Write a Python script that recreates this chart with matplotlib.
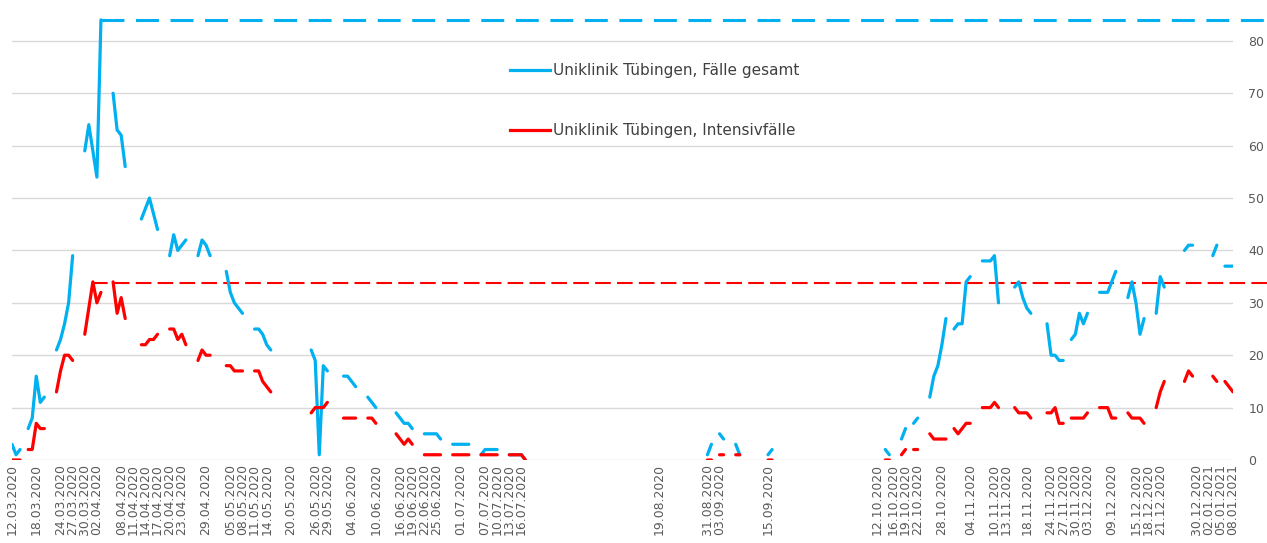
import matplotlib
matplotlib.use("Agg")
import matplotlib.pyplot as plt
from matplotlib.lines import Line2D
import pandas as pd

# ---------------- data ----------------
segment_starts = [
    "2020-03-12", "2020-03-16", "2020-03-23", "2020-03-30", "2020-04-06",
    "2020-04-13", "2020-04-20", "2020-04-27", "2020-05-04", "2020-05-11",
    "2020-05-25", "2020-06-02", "2020-06-08", "2020-06-15", "2020-06-22",
    "2020-06-29", "2020-07-06", "2020-07-13",
    "2020-08-31", "2020-09-03", "2020-09-07", "2020-09-15",
    "2020-10-14", "2020-10-18", "2020-10-21", "2020-10-25", "2020-10-31",
    "2020-11-07", "2020-11-15", "2020-11-23", "2020-11-29", "2020-12-06",
    "2020-12-13", "2020-12-20", "2020-12-27", "2021-01-03", "2021-01-06",
]

faelle_gesamt = [
    [3, 1, 2], [6, 8, 16, 11, 12], [21, 23, 26, 30, 39], [59, 64, 59, 54, 84],
    [70, 63, 62, 56], [46, 48, 50, 47, 44], [39, 43, 40, 41, 42], [39, 42, 41, 39],
    [36, 32, 30, 29, 28], [25, 25, 24, 22, 21],
    [21, 19, 1, 18, 17], [16, 16, 15, 14], [12, 11, 10], [9, 8, 7, 7, 6],
    [5, 5, 5, 5, 4], [3, 3, 3, 3, 3], [1, 2, 2, 2, 2], [1, 1, 1, 1, 0],
    [1, 3], [5, 4], [3, 1], [1, 2],
    [2, 1], [4, 6], [7, 8], [12, 16, 18, 22, 27], [25, 26, 26, 34, 35],
    [38, 38, 38, 39, 30], [33, 34, 31, 29, 28], [26, 20, 20, 19, 19],
    [23, 24, 28, 26, 28], [32, 32, 32, 34, 36],
    [31, 34, 30, 24, 27], [28, 35, 33], [40, 41, 41], [39, 41], [37, 37, 37],
]

intensivfaelle = [
    [0, 0, 0], [2, 2, 7, 6, 6], [13, 17, 20, 20, 19], [24, 29, 34, 30, 32],
    [34, 28, 31, 27], [22, 22, 23, 23, 24], [25, 25, 23, 24, 22], [19, 21, 20, 20],
    [18, 18, 17, 17, 17], [17, 17, 15, 14, 13],
    [9, 10, 10, 10, 11], [8, 8, 8, 8], [8, 8, 7], [5, 4, 3, 4, 3],
    [1, 1, 1, 1, 1], [1, 1, 1, 1, 1], [1, 1, 1, 1, 1], [1, 1, 1, 1, 0],
    [0, 0], [1, 1], [1, 1], [0, 0],
    [0, 0], [1, 2], [2, 2], [5, 4, 4, 4, 4], [6, 5, 6, 7, 7],
    [10, 10, 10, 11, 10], [10, 9, 9, 9, 8], [9, 9, 10, 7, 7],
    [8, 8, 8, 8, 9], [10, 10, 10, 8, 8],
    [9, 8, 8, 8, 7], [10, 13, 15], [15, 17, 16], [16, 15], [15, 14, 13],
]

peak_gesamt = 84.0
peak_gesamt_date = "2020-04-03"
peak_intensiv = 33.7
peak_intensiv_date = "2020-03-31 18:00"

tick_labels = [
    "12.03.2020", "18.03.2020", "24.03.2020", "27.03.2020", "30.03.2020", "02.04.2020",
    "08.04.2020", "11.04.2020", "14.04.2020", "17.04.2020", "20.04.2020", "23.04.2020",
    "29.04.2020", "05.05.2020", "08.05.2020", "11.05.2020", "14.05.2020", "20.05.2020",
    "26.05.2020", "29.05.2020", "04.06.2020", "10.06.2020", "16.06.2020", "19.06.2020",
    "22.06.2020", "25.06.2020", "01.07.2020", "07.07.2020", "10.07.2020", "13.07.2020",
    "16.07.2020", "19.08.2020", "31.08.2020", "03.09.2020", "15.09.2020", "12.10.2020",
    "16.10.2020", "19.10.2020", "22.10.2020", "28.10.2020", "04.11.2020", "10.11.2020",
    "13.11.2020", "18.11.2020", "24.11.2020", "27.11.2020", "30.11.2020", "03.12.2020",
    "09.12.2020", "15.12.2020", "18.12.2020", "21.12.2020", "30.12.2020", "02.01.2021",
    "05.01.2021", "08.01.2021",
]

series_names = ["Uniklinik Tübingen, Fälle gesamt", "Uniklinik Tübingen, Intensivfälle"]
colors = ["#00B0F0", "#FF0000"]

# ---------------- build daily series with gaps ----------------
start = pd.Timestamp("2020-03-12")
end = pd.Timestamp("2021-01-08")
full_range = pd.date_range(start, end, freq="D")


def to_series(segments):
    idx, vals = [], []
    for s, seg in zip(segment_starts, segments):
        d0 = pd.Timestamp(s)
        for i, v in enumerate(seg):
            idx.append(d0 + pd.Timedelta(days=i))
            vals.append(v)
    return pd.Series(vals, index=idx, dtype=float).reindex(full_range)


s_gesamt = to_series(faelle_gesamt)
s_intensiv = to_series(intensivfaelle)

# ---------------- figure ----------------
W, H = 1267, 543
fig = plt.figure(figsize=(W / 100, H / 100), dpi=100)
ax = fig.add_axes([12 / W, 83 / H, 1221 / W, 460 / H])

ax.plot(s_gesamt.index, s_gesamt.values, color=colors[0], lw=2.3,
        solid_capstyle="round", solid_joinstyle="round", zorder=3)
ax.plot(s_intensiv.index, s_intensiv.values, color=colors[1], lw=2.3,
        solid_capstyle="round", solid_joinstyle="round", zorder=4)

x_far = end + pd.Timedelta(days=9)
ax.plot([pd.Timestamp(peak_gesamt_date), x_far], [peak_gesamt, peak_gesamt],
        color=colors[0], lw=2.2, dashes=(7.5, 3.8), clip_on=False, zorder=2)
ax.plot([pd.Timestamp(peak_intensiv_date), x_far], [peak_intensiv, peak_intensiv],
        color=colors[1], lw=1.5, dashes=(7.5, 3.0), clip_on=False, zorder=2)

ax.set_xlim(start, end)
ax.set_ylim(0, 87.8)

ax.set_yticks(range(0, 81, 10))
ax.yaxis.tick_right()
ax.tick_params(axis="y", length=0, pad=11, labelsize=9, labelcolor="#595959")
ax.grid(axis="y", color="#d9d9d9", lw=1)
ax.set_axisbelow(True)

ax.set_xticks(pd.to_datetime(tick_labels, format="%d.%m.%Y"))
ax.set_xticklabels(tick_labels, rotation=90, fontsize=8.9, color="#595959")
ax.tick_params(axis="x", length=0, pad=3)

for sp in ax.spines.values():
    sp.set_visible(False)

# legend (placed manually)
for i, (name, c) in enumerate(zip(series_names, colors)):
    yy = 1 - (70 + 60 * i) / H
    fig.add_artist(Line2D([510 / W, 550 / W], [yy, yy], color=c, lw=2.3,
                          transform=fig.transFigure))
    fig.text(553 / W, yy, name, va="center", ha="left", fontsize=11, color="#404040")

fig.savefig("out.png", dpi=100)
